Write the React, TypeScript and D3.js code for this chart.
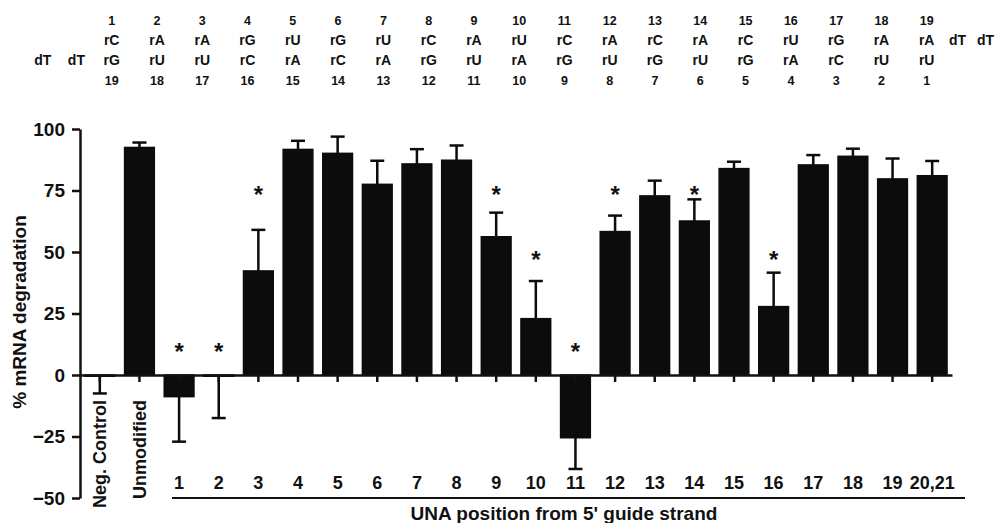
import React, { useEffect, useRef } from "react";
import * as d3 from "d3";

// bar categories and values (% mRNA degradation, mean and SD)
const categories = ["Neg. Control", "Unmodified", "1", "2", "3", "4", "5", "6", "7", "8", "9", "10", "11", "12", "13", "14", "15", "16", "17", "18", "19", "20,21"];
const degradation = [-0.5, 92.5, -8.8, -0.5, 42.3, 91.7, 90.1, 77.5, 85.8, 87.3, 56.2, 22.9, -25.5, 58.3, 72.8, 62.6, 83.9, 27.8, 85.4, 88.9, 79.7, 81];
const errors = [7, 2, 18.3, 17, 16.7, 3.5, 6.8, 9.6, 6, 6, 9.8, 15.3, 12.7, 6.5, 6.2, 8.8, 2.8, 13.8, 4, 3.1, 8.3, 6];
const yTicks = [-50, -25, 0, 25, 50, 75, 100];

// significance stars and the level they sit at
const starred = ["1", "2", "3", "9", "10", "11", "12", "14", "16"];
const starLevel = [11.5, 11.5, 75.5, 75.5, 49, 11.5, 75.5, 75.5, 49];

// duplex sequence drawn above the chart
const senseIndex = ["1", "2", "3", "4", "5", "6", "7", "8", "9", "10", "11", "12", "13", "14", "15", "16", "17", "18", "19"];
const senseBases = ["rC", "rA", "rA", "rG", "rU", "rG", "rU", "rC", "rA", "rU", "rC", "rA", "rC", "rA", "rC", "rU", "rG", "rA", "rA", "dT", "dT"];
const senseCols = [1, 2, 3, 4, 5, 6, 7, 8, 9, 10, 11, 12, 13, 14, 15, 16, 17, 18, 19, 19.68, 20.3];
const guideBases = ["dT", "dT", "rG", "rU", "rU", "rC", "rA", "rC", "rA", "rG", "rU", "rA", "rG", "rU", "rG", "rU", "rG", "rA", "rC", "rU", "rU"];
const guideCols = [-0.52, 0.22, 1, 2, 3, 4, 5, 6, 7, 8, 9, 10, 11, 12, 13, 14, 15, 16, 17, 18, 19];
const guideIndex = ["19", "18", "17", "16", "15", "14", "13", "12", "11", "10", "9", "8", "7", "6", "5", "4", "3", "2", "1"];

const W = 996;
const H = 523;
const FONT = "'Liberation Sans', Arial, Helvetica, sans-serif";

const App = () => {
  const ref = useRef<SVGSVGElement>(null);

  useEffect(() => {
    const svg = d3.select(ref.current);
    svg.selectAll("*").remove();
    svg.style("font-family", FONT).style("font-weight", "bold");

    const x = d3.scaleBand<string>().domain(categories).range([80, 952]).paddingInner(0.25).paddingOuter(0.125);
    const y = d3.scaleLinear().domain([-50, 100]).range([498, 129]);
    const col = d3.scaleLinear().domain([1, 19]).range([111.7, 926.7]);
    const cx = (c: string) => (x(c) as number) + x.bandwidth() / 2;

    // sequence header
    const header = svg.append("g").attr("fill", "#111");
    header.selectAll("text.si").data(senseIndex).enter().append("text")
      .attr("x", (d, i) => col(i + 1)).attr("y", 25).attr("text-anchor", "middle")
      .style("font-size", "12.5px").text(d => d);
    header.selectAll("text.sb").data(senseBases).enter().append("text")
      .attr("x", (d, i) => col(senseCols[i])).attr("y", 45).attr("text-anchor", "middle")
      .style("font-size", "14px").text(d => d);
    header.selectAll("text.gb").data(guideBases).enter().append("text")
      .attr("x", (d, i) => col(guideCols[i])).attr("y", 65).attr("text-anchor", "middle")
      .style("font-size", "14px").text(d => d);
    header.selectAll("text.gi").data(guideIndex).enter().append("text")
      .attr("x", (d, i) => col(i + 1)).attr("y", 84.5).attr("text-anchor", "middle")
      .style("font-size", "12.5px").text(d => d);

    // bars
    svg.selectAll("rect.bar").data(degradation).enter().append("rect")
      .attr("x", (d, i) => x(categories[i]) as number)
      .attr("width", x.bandwidth())
      .attr("y", d => y(Math.max(0, d)))
      .attr("height", d => Math.abs(y(d) - y(0)))
      .attr("fill", "#0c0c0c").attr("stroke", "#0c0c0c").attr("stroke-width", 1.5);

    // error bars (one-sided, away from zero)
    const eb = svg.append("g").attr("stroke", "#0c0c0c").attr("stroke-width", 2.5);
    degradation.forEach((v, i) => {
      const c = cx(categories[i]);
      const end = v > 0 ? v + errors[i] : v - errors[i];
      eb.append("line").attr("x1", c).attr("x2", c).attr("y1", y(v)).attr("y2", y(end));
      eb.append("line").attr("x1", c - 7).attr("x2", c + 7).attr("y1", y(end)).attr("y2", y(end));
    });

    // stars
    svg.selectAll("text.star").data(starred).enter().append("text")
      .attr("x", d => cx(d)).attr("y", (d, i) => y(starLevel[i]) + 13.5)
      .attr("text-anchor", "middle").style("font-size", "24px").attr("fill", "#111").text("*");

    // y axis
    const yAxis = svg.append("g").attr("transform", "translate(80,0)")
      .call(d3.axisLeft(y).tickValues(yTicks).tickSize(8).tickSizeOuter(0).tickPadding(7));
    yAxis.select(".domain").attr("stroke", "#111").attr("stroke-width", 2.5);
    yAxis.selectAll(".tick line").attr("stroke", "#111").attr("stroke-width", 2.5);
    yAxis.selectAll(".tick text").attr("fill", "#111").style("font-size", "19px").style("font-family", FONT);

    // x axis on zero
    const xAxis = svg.append("g").attr("transform", `translate(0,${y(0)})`)
      .call(d3.axisBottom(x).tickSize(7).tickSizeOuter(0).tickFormat(() => ""));
    xAxis.select(".domain").attr("stroke", "#111").attr("stroke-width", 2.5);
    xAxis.selectAll(".tick line").attr("stroke", "#111").attr("stroke-width", 2.5);

    // category labels
    svg.selectAll("text.rot").data(categories.slice(0, 2)).enter().append("text")
      .attr("transform", d => `translate(${cx(d)},400) rotate(-90)`)
      .attr("dy", "0.35em").attr("text-anchor", "end")
      .style("font-size", "18px").attr("fill", "#111").text(d => d);
    svg.selectAll("text.pos").data(categories.slice(2)).enter().append("text")
      .attr("x", d => cx(d)).attr("y", 488.5).attr("text-anchor", "middle")
      .style("font-size", "18px").attr("fill", "#111").text(d => d);

    svg.append("line").attr("x1", 172).attr("x2", 965).attr("y1", 498).attr("y2", 498)
      .attr("stroke", "#111").attr("stroke-width", 2);
    svg.append("text").attr("x", 564).attr("y", 519.5).attr("text-anchor", "middle")
      .style("font-size", "19px").attr("fill", "#111").text("UNA position from 5' guide strand");

    svg.append("text").attr("transform", "translate(19,312) rotate(-90)")
      .attr("dy", "0.35em").attr("text-anchor", "middle")
      .style("font-size", "19px").attr("fill", "#111").text("% mRNA degradation");
  }, []);

  return (
    <svg ref={ref} width={W} height={H} style={{ position: "absolute", left: 0, top: 0, background: "#fff" }} />
  );
};

export default App;
